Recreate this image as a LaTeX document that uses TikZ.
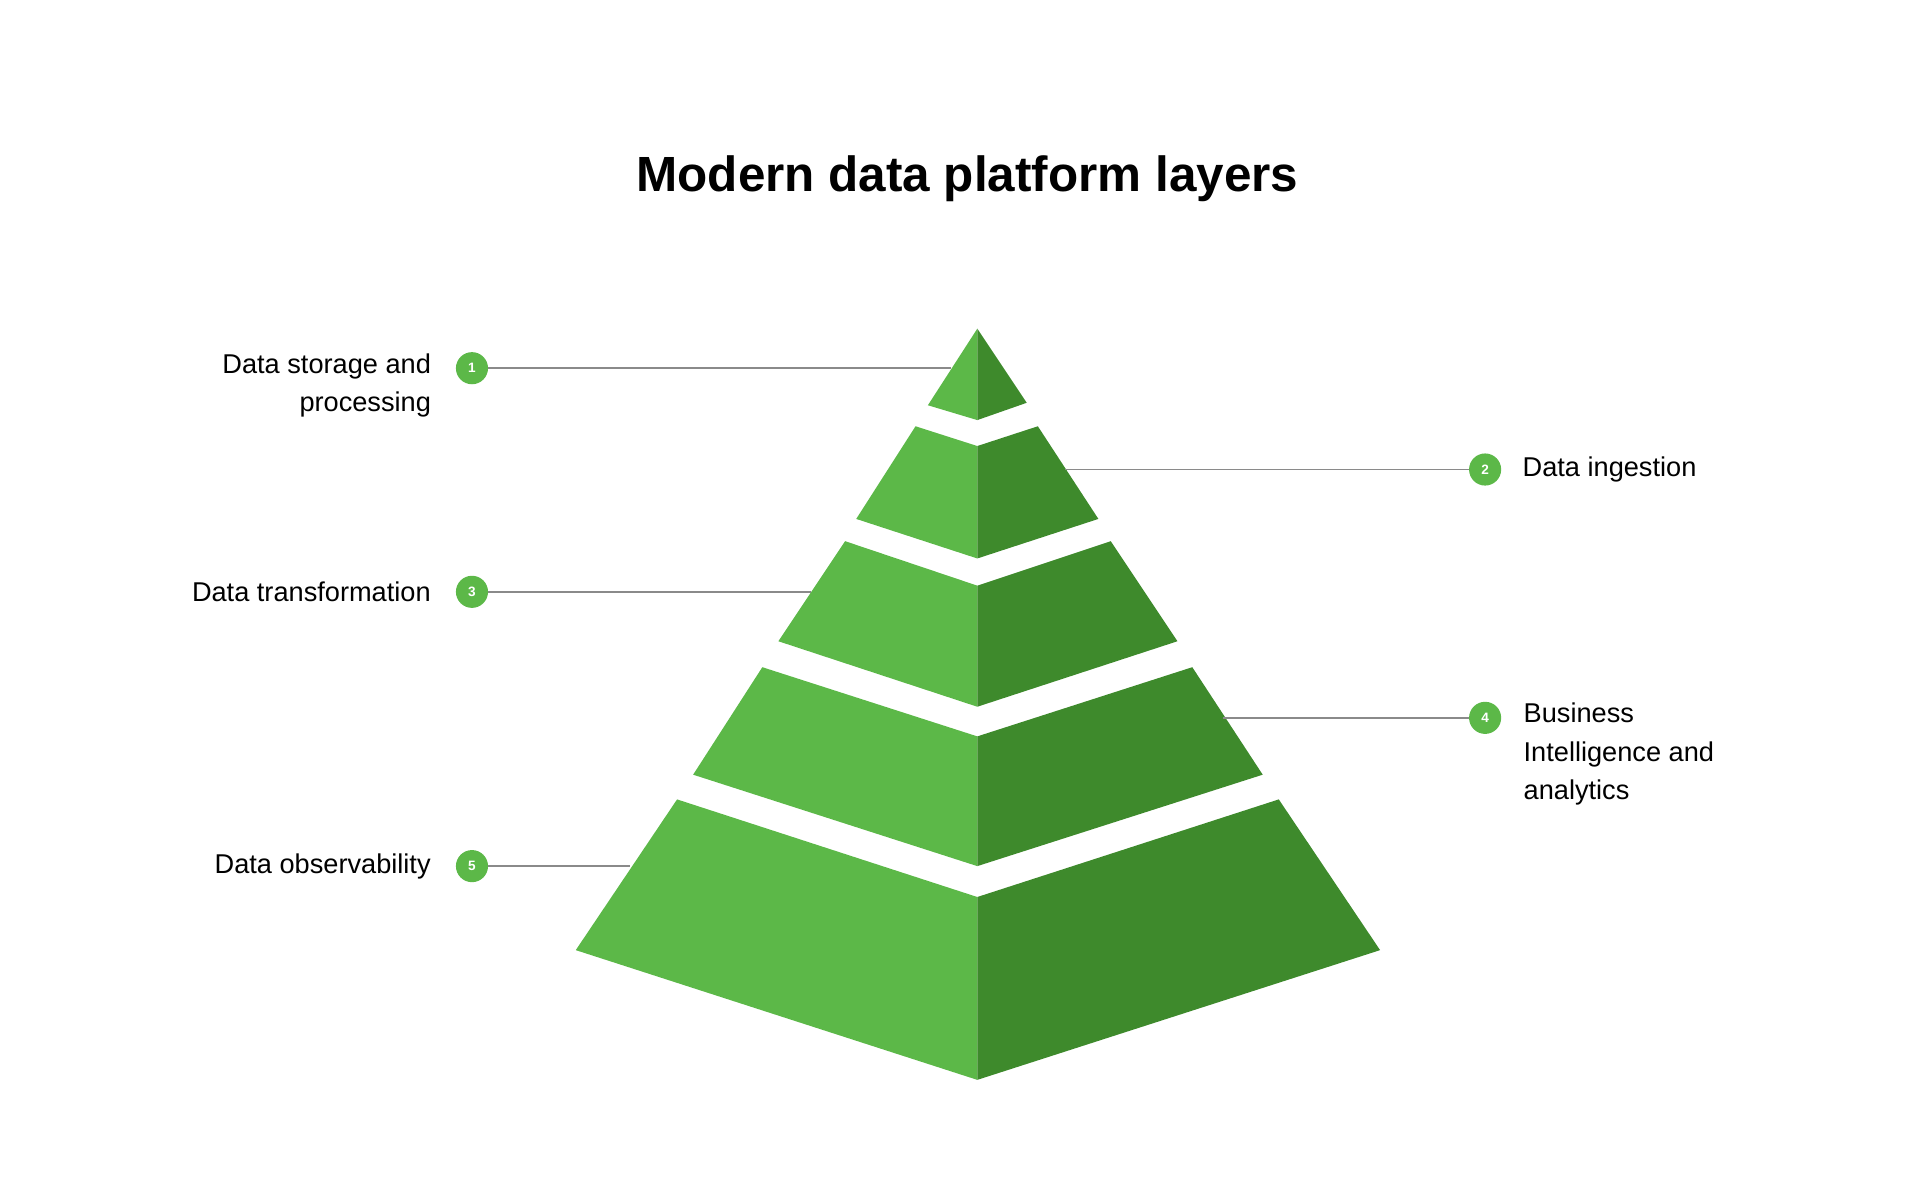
\documentclass[tikz,border=0pt]{standalone}
\usepackage{fontspec}
\setmainfont{Liberation Sans}
\usetikzlibrary{positioning}
\definecolor{lightgreen}{HTML}{5CB848}
\definecolor{darkgreen}{HTML}{3E8A2C}
\definecolor{leadgray}{HTML}{8A8A8A}
\begin{document}
\begin{tikzpicture}[x=1pt,y=-1pt]
  \tikzset{%
    num/.style = {circle, fill=lightgreen, text=white, minimum size=26pt,
                  inner sep=0pt, font=\fontsize{11}{11}\selectfont\bfseries},
    lbl/.style = {font=\fontsize{22}{31}\selectfont, inner sep=0pt},
    lead/.style = {draw=leadgray, line width=1.2pt},
  }
  \useasboundingbox (0,0) rectangle (1554,962);
  % title
  \node (title) at (783,145) {\fontsize{40}{40}\selectfont\bfseries Modern data platform layers};
  % pyramid layers
  \fill[lightgreen] (791,266) -- (751,328) -- (791,340) -- cycle;
  \fill[darkgreen]  (791,266) -- (831,326) -- (791,340) -- cycle;
  \fill[lightgreen] (791,361) -- (741,345) -- (693,420) -- (791,452) -- cycle;
  \fill[darkgreen]  (791,361) -- (840,345) -- (889,420) -- (791,452) -- cycle;
  \fill[lightgreen] (791,474) -- (684,438) -- (630,519) -- (791,572) -- cycle;
  \fill[darkgreen]  (791,474) -- (899,438) -- (953,519) -- (791,572) -- cycle;
  \fill[lightgreen] (791,596) -- (617,540) -- (561,627) -- (791,701) -- cycle;
  \fill[darkgreen]  (791,596) -- (965,540) -- (1022,627) -- (791,701) -- cycle;
  \fill[lightgreen] (791,726) -- (548,647) -- (466,769) -- (791,874) -- cycle;
  \fill[darkgreen]  (791,726) -- (1035,647) -- (1117,769) -- (791,874) -- cycle;
  % anchor points on the pyramid
  \coordinate (p1) at (770,298);
  \coordinate (p2) at (862,380);
  \coordinate (p3) at (656,479);
  \coordinate (p4) at (990,581);
  \coordinate (p5) at (510,701);
  % numbered markers
  \node (n1) [num] at (382,298) {1};
  \node (n2) [num] at (1202,380) {2};
  \node (n3) [num] at (382,479) {3};
  \node (n4) [num] at (1202,581) {4};
  \node (n5) [num] at (382,701) {5};
  % labels
  \node (l1) [lbl, align=right, anchor=north east] at (349,286) {Data storage and\\processing};
  \node (l2) [lbl, anchor=west, right=17pt of n2] {Data ingestion};
  \node (l3) [lbl, anchor=east, left=20pt of n3] {Data transformation};
  \node (l4) [lbl, align=left, anchor=north west] at (1233,569) {Business\\Intelligence and\\analytics};
  \node (l5) [lbl, anchor=east, left=20pt of n5] {Data observability};
  % leader lines
  \draw[lead] (n1) -- (p1);
  \draw[lead] (n2) -- (p2);
  \draw[lead] (n3) -- (p3);
  \draw[lead] (n4) -- (p4);
  \draw[lead] (n5) -- (p5);
\end{tikzpicture}
\end{document}
